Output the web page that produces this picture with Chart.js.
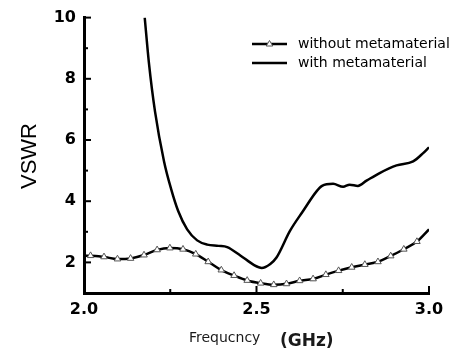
<!DOCTYPE html>
<html>
<head>
<meta charset="utf-8">
<script src="https://cdn.jsdelivr.net/npm/chart.js@4/dist/chart.umd.min.js"></script>
<style>
    html, body { margin: 0; padding: 0; background: #fff; }
    #wrap { width: 469px; height: 354px; }
</style>
</head>
<body>
<div id="wrap"><canvas id="chart"></canvas></div>
<script>
// with metamaterial
const freqWith = [2.176, 2.188, 2.206, 2.232, 2.252, 2.273, 2.299, 2.328, 2.357, 2.39, 2.415, 2.454, 2.492, 2.515, 2.54, 2.558, 2.597, 2.635, 2.674, 2.69, 2.722, 2.751, 2.77, 2.794, 2.819, 2.857, 2.906, 2.954, 2.983, 3.0];
const vswrWith = [10.0, 8.54, 6.92, 5.30, 4.42, 3.68, 3.08, 2.72, 2.58, 2.54, 2.50, 2.22, 1.92, 1.82, 1.95, 2.16, 3.03, 3.68, 4.32, 4.50, 4.57, 4.47, 4.54, 4.50, 4.67, 4.92, 5.17, 5.30, 5.57, 5.76];

// without metamaterial (triangle markers)
const freqWithout = [2.0, 2.019, 2.058, 2.097, 2.135, 2.174, 2.212, 2.249, 2.287, 2.324, 2.360, 2.398, 2.435, 2.473, 2.512, 2.550, 2.587, 2.625, 2.664, 2.701, 2.738, 2.776, 2.814, 2.852, 2.889, 2.927, 2.965, 3.0];
const vswrWithout = [2.22, 2.22, 2.18, 2.11, 2.13, 2.24, 2.41, 2.47, 2.43, 2.27, 2.02, 1.75, 1.57, 1.41, 1.32, 1.27, 1.30, 1.40, 1.46, 1.60, 1.73, 1.84, 1.93, 2.02, 2.21, 2.43, 2.68, 3.08];

const xTicks = [2.0, 2.5, 3.0];
const xMinorTicks = [2.25, 2.75];
const yTicks = [2, 4, 6, 8, 10];
const yMinorTicks = [3, 5, 7, 9];

const seriesLabels = ['without metamaterial', 'with metamaterial'];
const xTitle = 'Frequcncy';
const xUnit = '(GHz)';
const yTitle = 'VSWR';

const tickFont = { family: 'DejaVu Sans', size: 16, weight: 'bold' };

function toPoints(xs, ys) {
    return xs.map((x, i) => ({ x: x, y: ys[i] }));
}

// inward tick marks, legend and split axis title
const extrasPlugin = {
    id: 'extras',
    afterDraw(chart) {
        const ctx = chart.ctx;
        const xs = chart.scales.x;
        const ys = chart.scales.y;
        const area = chart.chartArea;
        ctx.save();
        ctx.strokeStyle = '#000';
        ctx.lineWidth = 2;
        xTicks.forEach(v => {
            const px = xs.getPixelForValue(v);
            ctx.beginPath(); ctx.moveTo(px, area.bottom); ctx.lineTo(px, area.bottom - 7); ctx.stroke();
        });
        xMinorTicks.forEach(v => {
            const px = xs.getPixelForValue(v);
            ctx.beginPath(); ctx.moveTo(px, area.bottom); ctx.lineTo(px, area.bottom - 4); ctx.stroke();
        });
        yTicks.forEach(v => {
            const py = ys.getPixelForValue(v);
            ctx.beginPath(); ctx.moveTo(area.left, py); ctx.lineTo(area.left + 7, py); ctx.stroke();
        });
        yMinorTicks.forEach(v => {
            const py = ys.getPixelForValue(v);
            ctx.beginPath(); ctx.moveTo(area.left, py); ctx.lineTo(area.left + 4, py); ctx.stroke();
        });

        // legend
        const rows = [
            { y: 44, ds: chart.data.datasets[0] },
            { y: 63, ds: chart.data.datasets[1] }
        ];
        ctx.font = '14px "DejaVu Sans"';
        ctx.textBaseline = 'middle';
        ctx.textAlign = 'left';
        rows.forEach(r => {
            ctx.strokeStyle = '#000';
            ctx.lineWidth = 2.5;
            ctx.beginPath(); ctx.moveTo(252, r.y); ctx.lineTo(287, r.y); ctx.stroke();
            if (r.ds.pointStyle === 'triangle') {
                ctx.fillStyle = '#fff';
                ctx.strokeStyle = '#555';
                ctx.lineWidth = 1;
                ctx.beginPath();
                ctx.moveTo(269.5, r.y - 3.5);
                ctx.lineTo(272.8, r.y + 2);
                ctx.lineTo(266.2, r.y + 2);
                ctx.closePath();
                ctx.fill(); ctx.stroke();
            }
            ctx.fillStyle = '#000';
            ctx.fillText(r.ds.label, 298, r.y);
        });

        // x axis title
        ctx.fillStyle = '#1a1a1a';
        ctx.textBaseline = 'alphabetic';
        ctx.font = '14px "DejaVu Sans"';
        ctx.fillText(xTitle, 189, 342);
        ctx.font = 'bold 17px "DejaVu Sans"';
        ctx.fillText(xUnit, 280, 346);

        // y axis title
        ctx.translate(30, 156);
        ctx.rotate(-Math.PI / 2);
        ctx.textAlign = 'center';
        ctx.textBaseline = 'middle';
        ctx.font = '22px "Liberation Sans"';
        ctx.fillStyle = '#000';
        ctx.fillText(yTitle, 0, 0);
        ctx.restore();
    }
};

new Chart(document.getElementById('chart'), {
    type: 'line',
    data: {
        datasets: [
            {
                label: seriesLabels[0],
                data: toPoints(freqWithout, vswrWithout),
                borderColor: '#000',
                borderWidth: 2.5,
                pointStyle: 'triangle',
                pointRadius: freqWithout.map((f, i) => (i === 0 || i === freqWithout.length - 1) ? 0 : 3.8),
                pointBackgroundColor: '#fff',
                pointBorderColor: '#555',
                pointBorderWidth: 1,
                cubicInterpolationMode: 'monotone',
                fill: false
            },
            {
                label: seriesLabels[1],
                data: toPoints(freqWith, vswrWith),
                borderColor: '#000',
                borderWidth: 2.5,
                pointRadius: 0,
                cubicInterpolationMode: 'monotone',
                fill: false
            }
        ]
    },
    options: {
        responsive: true,
        maintainAspectRatio: false,
        animation: false,
        layout: { padding: { top: 15, right: 40, left: 0, bottom: 0 } },
        plugins: {
            legend: { display: false },
            tooltip: { enabled: false }
        },
        scales: {
            x: {
                type: 'linear',
                min: 2.0,
                max: 3.0,
                afterBuildTicks: (scale) => { scale.ticks = xTicks.map(v => ({ value: v })); },
                afterFit: (scale) => { scale.height = 61; },
                ticks: {
                    color: '#000',
                    font: tickFont,
                    padding: 7,
                    maxRotation: 0,
                    callback: (v) => v.toFixed(1)
                },
                grid: { display: false, drawTicks: false },
                border: { display: true, color: '#000', width: 3 }
            },
            y: {
                type: 'linear',
                min: 1,
                max: 10,
                afterBuildTicks: (scale) => { scale.ticks = yTicks.map(v => ({ value: v })); },
                afterFit: (scale) => { scale.width = 84; },
                ticks: {
                    color: '#000',
                    font: tickFont,
                    padding: 8,
                    callback: (v) => String(v)
                },
                grid: { display: false, drawTicks: false },
                border: { display: true, color: '#000', width: 3 }
            }
        }
    },
    plugins: [extrasPlugin]
});
</script>
</body>
</html>
